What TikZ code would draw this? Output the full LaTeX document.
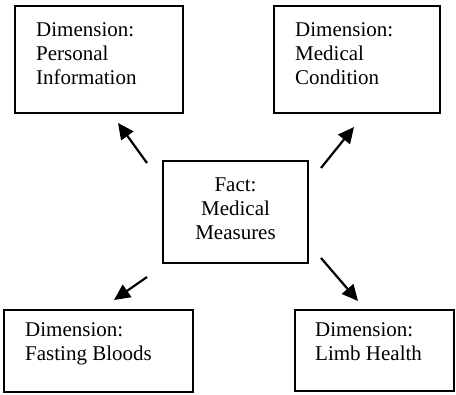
\documentclass[tikz,border=0pt]{standalone}
\usepackage{fontspec}
\setmainfont{Liberation Serif}
\usetikzlibrary{arrows.meta}
\begin{document}
\begin{tikzpicture}[x=1pt,y=-1pt,
  boxframe/.style={draw=black,line width=1.8pt,inner sep=0pt},
  label/.style={inner sep=0pt,anchor=base west,align=left,font=\fontsize{21}{24}\selectfont},
  clabel/.style={inner sep=0pt,anchor=base,align=center,font=\fontsize{21}{24}\selectfont},
  link/.style={line width=2.2pt,-{Triangle[length=16pt,width=15pt]}}]
\useasboundingbox (0,0) rectangle (456,395);
% boxes
\draw[boxframe] (15,6) rectangle (183,113);
\draw[boxframe] (274,6) rectangle (440,113);
\draw[boxframe] (163,161) rectangle (308,263);
\draw[boxframe] (4,310) rectangle (193,392);
\draw[boxframe] (295,310) rectangle (454,391);
% labels (anchored at the baseline of the last line)
\node[label] (pi) at (36,85) {Dimension:\\Personal\\Information};
\node[label] (mc) at (295,85) {Dimension:\\Medical\\Condition};
\node[clabel] (mm) at (235.5,240) {Fact:\\Medical\\Measures};
\node[label] (fb) at (25,361) {Dimension:\\Fasting Bloods};
\node[label] (lh) at (315,361) {Dimension:\\Limb Health};
% arrow ends
\coordinate (a1s) at (147,163); \coordinate (a1e) at (118,123);
\coordinate (a2s) at (321,168); \coordinate (a2e) at (354,127);
\coordinate (a3s) at (147,277); \coordinate (a3e) at (114,300);
\coordinate (a4s) at (321,258); \coordinate (a4e) at (358,301);
\draw[link] (a1s) -- (a1e);
\draw[link] (a2s) -- (a2e);
\draw[link] (a3s) -- (a3e);
\draw[link] (a4s) -- (a4e);
\end{tikzpicture}
\end{document}
